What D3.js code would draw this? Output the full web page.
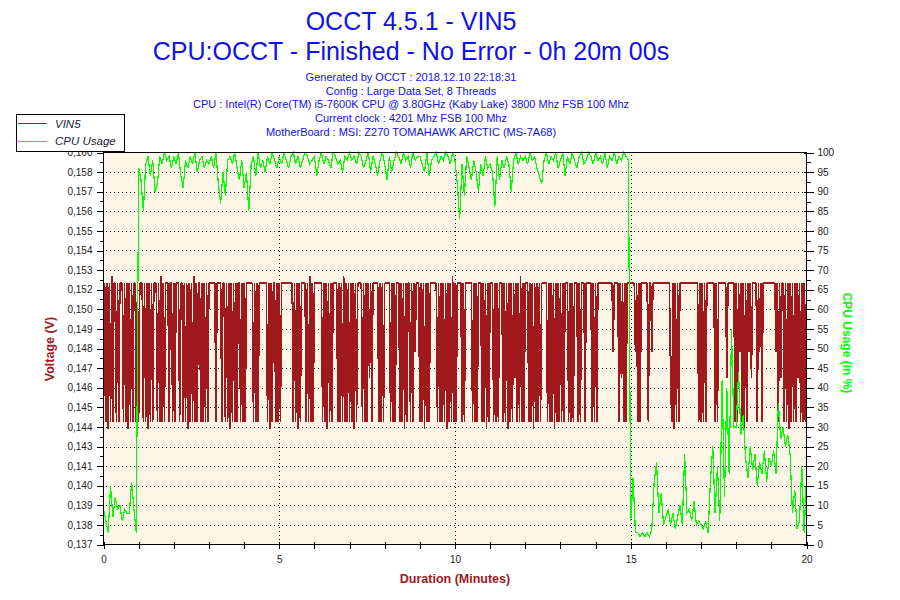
<!DOCTYPE html>
<html>
<head>
<meta charset="utf-8">
<script src="https://cdn.jsdelivr.net/npm/d3@7"></script>
<style>
body { margin: 0; background: #fff; }
</style>
</head>
<body>
<script>
const WIDTH = 900
const HEIGHT = 600
// bornes de la zone de trace
const X0 = 103.5
const X1 = 806.5
const Y0 = 152.5
const Y1 = 544.5

const titleLines = ['OCCT 4.5.1 - VIN5', 'CPU:OCCT - Finished - No Error - 0h 20m 00s']
const infoLines = [
    'Generated by OCCT : 2018.12.10 22:18:31',
    'Config : Large Data Set, 8 Threads',
    'CPU : Intel(R) Core(TM) i5-7600K CPU @ 3.80GHz (Kaby Lake) 3800 Mhz FSB 100 Mhz',
    'Current clock : 4201 Mhz FSB 100 Mhz',
    'MotherBoard : MSI: Z270 TOMAHAWK ARCTIC (MS-7A68)'
]
const seriesNames = ['VIN5', 'CPU Usage']

// axes
const durationDomain = [0, 20]
const durationTicks = [0, 5, 10, 15, 20]
const voltDomain = [0.1369, 0.15955]
const voltTickLabels = ['0,137', '0,138', '0,139', '0,140', '0,141', '0,143', '0,144', '0,145', '0,146', '0,147', '0,148',
    '0,149', '0,150', '0,152', '0,153', '0,154', '0,155', '0,156', '0,157', '0,158', '0,160']
const cpuDomain = [0, 100]
const cpuTicks = [0, 5, 10, 15, 20, 25, 30, 35, 40, 45, 50, 55, 60, 65, 70, 75, 80, 85, 90, 95, 100]

// VIN5 : un caractere toutes les 2 secondes, une chaine par minute
const vin5Step = 2
const vin5Levels = { H: 0.1520, P: 0.1524, L: 0.1440, T: 0.1436, m: 0.1480, k: 0.1465 }
const vin5Codes = [
    'LHLHTHLPLHHLHLHHHLHLHTHLHLHHLH',
    'LHHHLHLHTHLHLHHHLHLPLHLHHHLHHL',
    'HLHHHLHHLHLHTHLHLPLHLHHLHLHLHL',
    'HHHHHHLHHHHLHHLHLHTHLHLHLHHLHL',
    'HLHHHHHHLHLHLHHHHHHHLHTHLHHLHL',
    'HLHHHHHHHHHHLHLHTHLHHHHLHLPLHL',
    'HHHHHHHLHLHTHLHLHHHHLHLHLPLHLH',
    'LHLHTHLHHHHLHLHLHkHLHHHHHLHLHL',
    'HHHHHLHLHLHHHLHLHTHLHHLHLHmHHH',
    'LHLHTHLHLHHHHHHLHLHLHLHTHLHLPL',
    'HLHHHHLHLHHHHHHLHLHLHHHLHLHTHL',
    'HHHLHLHLHHHLHLHTHLHLHkHLHLPLHL',
    'HHHLHLHTHLHLHLHHHHHLHLHLHTHLHL',
    'HLHLHHHLHLHLHHHLHLHHHLHHHHHLHL',
    'HLHHHHHHHHHHHHHmHHHHLHkHLHLHHH',
    'HHHHmHLHLHHHHHHLHHmHHHHHHHHHHH',
    'HHHHkLHTHLHLHHHHHHHHHHHHHHHHLH',
    'LHLHLHHHHHHHLHLHHHHHHHkHHHHHHL',
    'HLHmHLHTHLHmHkHHHHLHmHLHHHHHHH',
    'HHHHmHLHkHHLHLHTHLHLHLHkHLHLHL'
]
const vin5Last = 'H'

// CPU Usage (%) : une valeur toutes les 4 secondes, une ligne par minute
const cpuStep = 4
const cpuUsage = [
    9, 6, 3, 15, 7, 12, 9, 10, 6, 9, 8, 8, 16, 9, 3,
    96, 93, 85, 97, 99, 94, 98, 90, 92, 99, 97, 100, 98, 99, 96,
    99, 97, 100, 94, 91, 98, 96, 99, 97, 100, 95, 98, 99, 96, 98,
    97, 99, 96, 100, 92, 87, 95, 89, 98, 99, 97, 100, 96, 93, 98,
    91, 95, 85, 97, 99, 94, 100, 96, 98, 95, 99, 97, 100, 98, 96,
    99, 97, 100, 98, 96, 99, 100, 97, 99, 96, 98, 100, 99, 97, 98,
    99, 94, 98, 100, 97, 99, 98, 96, 100, 99, 97, 98, 95, 99, 98,
    100, 98, 99, 97, 100, 99, 96, 98, 100, 95, 99, 97, 94, 98, 100,
    97, 93, 99, 95, 98, 100, 99, 97, 100, 98, 99, 96, 100, 98, 99,
    99, 97, 95, 100, 94, 98, 99, 100, 97, 99, 98, 100, 99, 97, 100,
    98, 92, 83, 97, 89, 99, 96, 93, 98, 95, 90, 97, 94, 99, 96,
    97, 95, 86, 99, 93, 98, 96, 99, 97, 90, 98, 100, 97, 99, 98,
    99, 97, 100, 98, 99, 96, 94, 92, 98, 100, 97, 99, 98, 100, 96,
    98, 100, 94, 99, 97, 100, 98, 96, 99, 100, 97, 98, 100, 99, 97,
    100, 98, 99, 97, 100, 96, 99, 98, 100, 97, 99, 98, 100, 99, 98,
    6, 17, 3, 3, 2, 3, 2, 3, 2, 4, 16, 21, 8, 13, 5,
    7, 9, 5, 8, 4, 7, 10, 5, 23, 8, 9, 6, 11, 5, 6,
    5, 4, 6, 3, 16, 25, 8, 20, 6, 42, 12, 40, 18, 55, 30,
    30, 44, 28, 33, 22, 17, 25, 19, 23, 15, 21, 18, 24, 16, 22,
    20, 24, 18, 36, 27, 30, 25, 28, 23, 8, 14, 4, 6, 20, 3,
    17
]

const RED = '#A0191C'
const GREEN = '#00FF00'
const BLUE = '#1010E8'
const FONT = "'Liberation Sans', Arial, sans-serif"

const vin5 = (vin5Codes.join('') + vin5Last).split('')
    .map((c, i) => ({ t: i * vin5Step / 60, v: vin5Levels[c] }))
const cpu = cpuUsage.map((v, i) => ({ t: i * cpuStep / 60, v }))

const svg = d3.select('body').append('svg')
    .attr('width', WIDTH).attr('height', HEIGHT)
    .attr('font-family', FONT)

const x = d3.scaleLinear().domain(durationDomain).range([X0, X1])
const yV = d3.scaleLinear().domain(voltDomain).range([Y1, Y0])
const yC = d3.scaleLinear().domain(cpuDomain).range([Y1, Y0])

// positions des graduations de tension (21 niveaux reguliers)
const voltTicks = voltTickLabels.map((d, i) => voltDomain[0] + i * (voltDomain[1] - voltDomain[0]) / (voltTickLabels.length - 1))

// fond
svg.append('rect')
    .attr('x', X0).attr('y', Y0)
    .attr('width', X1 - X0).attr('height', Y1 - Y0)
    .attr('fill', '#FDF5E6')

// grille pointillee
const grid = svg.append('g')
    .attr('stroke', '#000').attr('stroke-dasharray', '1,3')
    .attr('shape-rendering', 'crispEdges')
grid.selectAll('line.h')
    .data(voltTicks.slice(1, -1))
    .enter().append('line')
    .attr('class', 'h')
    .attr('x1', X0 + 2).attr('x2', X1)
    .attr('y1', d => Math.round(yV(d)) + 0.5).attr('y2', d => Math.round(yV(d)) + 0.5)
grid.selectAll('line.v')
    .data(durationTicks.slice(1, -1))
    .enter().append('line')
    .attr('class', 'v')
    .attr('y1', Y0 + 2).attr('y2', Y1)
    .attr('x1', d => Math.round(x(d)) + 0.5).attr('x2', d => Math.round(x(d)) + 0.5)

// series (trace sans anticrenelage comme l'original)
svg.append('path')
    .datum(vin5)
    .attr('fill', 'none').attr('stroke', RED).attr('stroke-width', 1.6)
    .attr('stroke-linejoin', 'miter').attr('stroke-miterlimit', 1)
    .attr('shape-rendering', 'crispEdges')
    .attr('d', d3.line().x(d => x(d.t)).y(d => yV(d.v)))
svg.append('path')
    .datum(cpu)
    .attr('fill', 'none').attr('stroke', GREEN).attr('stroke-width', 1.2)
    .attr('shape-rendering', 'crispEdges')
    .attr('d', d3.line().x(d => x(d.t)).y(d => yC(d.v)))

// cadre
svg.append('rect')
    .attr('x', X0).attr('y', Y0)
    .attr('width', X1 - X0).attr('height', Y1 - Y0)
    .attr('fill', 'none').attr('stroke', '#000')
    .attr('shape-rendering', 'crispEdges')

// axe gauche
const axisLeft = d3.axisLeft(yV)
    .tickValues(voltTicks)
    .tickFormat((d, i) => voltTickLabels[i])
    .tickSize(7).tickPadding(4)
const gL = svg.append('g').attr('transform', `translate(${X0},0)`).call(axisLeft)
// petites graduations
gL.selectAll('line.minor')
    .data(voltTicks.slice(0, -1).map((d, i) => (d + voltTicks[i + 1]) / 2))
    .enter().append('line')
    .attr('class', 'minor').attr('stroke', '#000')
    .attr('x1', -4).attr('x2', 0)
    .attr('y1', d => Math.round(yV(d)) + 0.5).attr('y2', d => Math.round(yV(d)) + 0.5)

// axe droit
const axisRight = d3.axisRight(yC)
    .tickValues(cpuTicks)
    .tickSize(7).tickPadding(4)
const gR = svg.append('g').attr('transform', `translate(${X1},0)`).call(axisRight)
gR.selectAll('.tick line').attr('x1', -3)
gR.selectAll('line.minor')
    .data(cpuTicks.slice(0, -1).map(d => d + 2.5))
    .enter().append('line')
    .attr('class', 'minor').attr('stroke', '#000')
    .attr('x1', 0).attr('x2', 4)
    .attr('y1', d => Math.round(yC(d)) + 0.5).attr('y2', d => Math.round(yC(d)) + 0.5)

// axe bas : une graduation par minute
const axisBottom = d3.axisBottom(x)
    .tickValues(d3.range(durationDomain[0], durationDomain[1] + 1))
    .tickFormat(d => durationTicks.includes(d) ? d : '')
    .tickSize(4).tickPadding(7)
const gB = svg.append('g').attr('transform', `translate(0,${Y1})`).call(axisBottom)
gB.selectAll('.tick line').attr('y1', -3)

for (const g of [gL, gR, gB]) {
    g.select('.domain').remove()
    g.selectAll('line').attr('shape-rendering', 'crispEdges')
    g.selectAll('text').attr('font-size', 10).attr('font-family', FONT).attr('fill', '#222')
}

// titres d'axes
svg.append('text')
    .attr('transform', `translate(54,349) rotate(-90)`)
    .attr('text-anchor', 'middle')
    .attr('font-size', 12.5).attr('font-weight', 'bold').attr('fill', RED)
    .text('Voltage (V)')
svg.append('text')
    .attr('transform', `translate(843,343) rotate(90)`)
    .attr('text-anchor', 'middle')
    .attr('font-size', 12).attr('font-weight', 'bold').attr('fill', GREEN)
    .text('CPU Usage (in %)')
svg.append('text')
    .attr('x', (X0 + X1) / 2).attr('y', 583)
    .attr('text-anchor', 'middle')
    .attr('font-size', 12.5).attr('font-weight', 'bold').attr('fill', RED)
    .text('Duration (Minutes)')

// titres
svg.selectAll('text.title')
    .data(titleLines)
    .enter().append('text')
    .attr('class', 'title')
    .attr('x', 411).attr('y', (d, i) => 30 + i * 29.5)
    .attr('text-anchor', 'middle')
    .attr('font-size', 25).attr('fill', BLUE)
    .text(d => d)
svg.selectAll('text.info')
    .data(infoLines)
    .enter().append('text')
    .attr('class', 'info')
    .attr('x', 411).attr('y', (d, i) => 81 + i * 13.7)
    .attr('text-anchor', 'middle')
    .attr('font-size', 11).attr('fill', BLUE)
    .text(d => d)

// legende
const legend = svg.append('g')
legend.append('rect')
    .attr('x', 16.5).attr('y', 114.5).attr('width', 108).attr('height', 37)
    .attr('fill', '#fff').attr('stroke', '#000')
    .attr('shape-rendering', 'crispEdges')
const items = legend.selectAll('g.item')
    .data(seriesNames)
    .enter().append('g')
    .attr('class', 'item')
    .attr('transform', (d, i) => `translate(0,${123.5 + i * 17.5})`)
items.append('line')
    .attr('x1', 18).attr('x2', 47)
    .attr('stroke', (d, i) => i === 0 ? RED : GREEN)
    .attr('shape-rendering', 'crispEdges')
items.append('text')
    .attr('x', 55).attr('y', 4)
    .attr('font-size', 11.5).attr('font-style', 'italic').attr('fill', '#202040')
    .text(d => d)
</script>
</body>
</html>
